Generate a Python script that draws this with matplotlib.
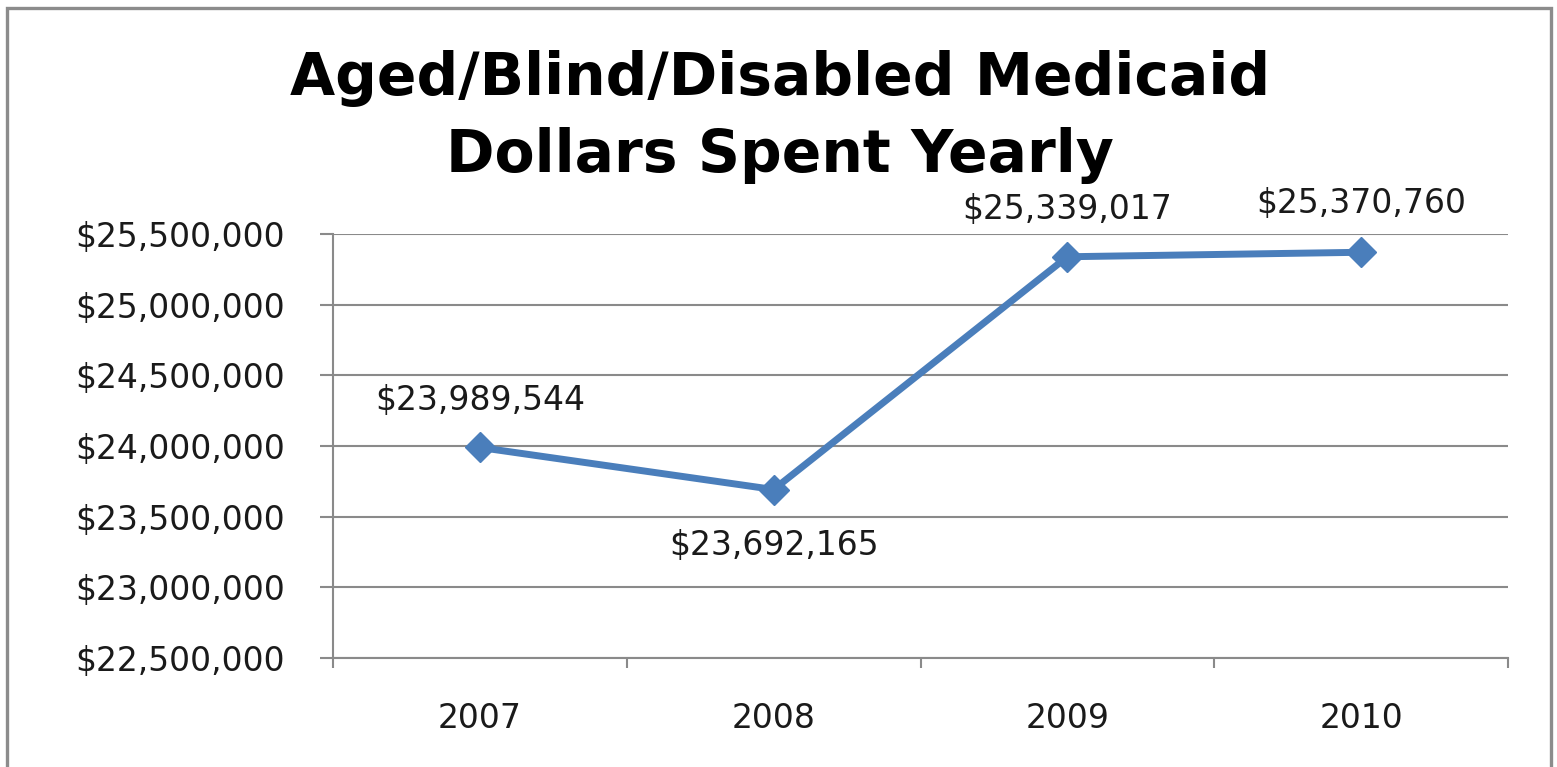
import matplotlib
matplotlib.use("Agg")
import matplotlib.pyplot as plt
from matplotlib.patches import Rectangle
from matplotlib.ticker import FuncFormatter, FixedLocator

years = ["2007", "2008", "2009", "2010"]
spending = [23989544, 23692165, 25339017, 25370760]
label_offsets = [34, -40, 34, 35]  # points above (+) or below (-) each marker

title_lines = ["Aged/Blind/Disabled Medicaid", "Dollars Spent Yearly"]

plt.rcParams["font.family"] = ["DejaVu Sans"]

W, H = 1557, 767
fig = plt.figure(figsize=(W / 100, H / 100), dpi=100)
fig.patch.set_facecolor("white")

# outer chart frame
fig.patches.append(Rectangle((7.5 / W, -0.02), (1551 - 7.5) / W, 1 - 7.5 / H + 0.02,
                             transform=fig.transFigure, fill=False,
                             edgecolor="#8c8c8c", linewidth=2.4, zorder=0))

ax = fig.add_axes([333 / W, 1 - 658 / H, (1508 - 333) / W, (658 - 234) / H])

grid_color = "#8a8a8a"
text_color = "#1a1a1a"
label_size = 23.8
x = list(range(len(years)))
ax.plot(x, spending, color="#4A7EBB", linewidth=5, marker="D", markersize=15,
        markeredgecolor="#4A7EBB", zorder=3, clip_on=False)

for xi, v, off in zip(x, spending, label_offsets):
    ax.annotate(f"${v:,.0f}", (xi, v), xytext=(0, off), textcoords="offset points",
                ha="center", va="center", fontsize=label_size, color=text_color)

ax.set_xlim(-0.5, len(years) - 0.5)
ax.set_ylim(22500000, 25500000)
ax.yaxis.set_major_locator(FixedLocator([22500000 + 500000 * i for i in range(7)]))
ax.yaxis.set_major_formatter(FuncFormatter(lambda v, p: f"${v:,.0f}"))

ax.set_xticks(x)
ax.set_xticklabels(years)
ax.set_xticks([i - 0.5 for i in range(len(years) + 1)], minor=True)
ax.tick_params(axis="x", which="major", length=0, pad=32, labelsize=label_size, labelcolor=text_color)
ax.tick_params(axis="x", which="minor", length=7.5, width=1.5, color=grid_color)
ax.tick_params(axis="y", which="major", length=9.5, width=1.5, color=grid_color,
               pad=25, labelsize=label_size, labelcolor=text_color)

ax.grid(axis="y", color=grid_color, linewidth=1.5, zorder=0)
ax.set_axisbelow(True)
for side in ("top", "right"):
    ax.spines[side].set_visible(False)
for side in ("left", "bottom"):
    ax.spines[side].set_color(grid_color)
    ax.spines[side].set_linewidth(1.5)

fig.text(0.501, 1 - 95 / H, title_lines[0], ha="center", va="baseline",
         fontsize=42, fontweight="bold", color="black")
fig.text(0.501, 1 - 172 / H, title_lines[1], ha="center", va="baseline",
         fontsize=42, fontweight="bold", color="black")

fig.savefig("out.png", dpi=100, facecolor="white")
